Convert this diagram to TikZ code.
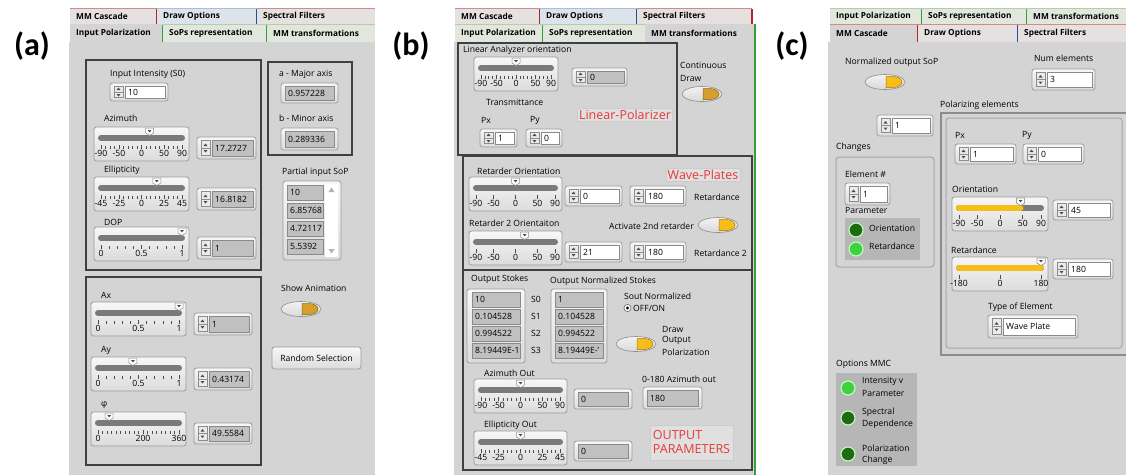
\documentclass[tikz,border=0pt]{standalone}
\usepackage{fontspec}
\setmainfont{Open Sans}
\newfontfamily\labfont{Carlito}
\definecolor{panel}{HTML}{D4D4D4}
\definecolor{frmc}{HTML}{404040}
\definecolor{ctlfill}{HTML}{E4E4E4}
\definecolor{ctldraw}{HTML}{9C9C9C}
\definecolor{fldg}{HTML}{C0C0C0}
\definecolor{flddraw}{HTML}{8A8A8A}
\definecolor{trackc}{HTML}{7A7A7A}
\definecolor{ledbg}{HTML}{B6B6B6}
\definecolor{dkgreen}{HTML}{1F6A12}
\definecolor{ltgreen}{HTML}{3FD23F}
\definecolor{yel}{HTML}{F7BE1A}
\definecolor{org}{HTML}{D49F2C}
\definecolor{redtxt}{HTML}{E53935}
\definecolor{tabr}{HTML}{E6E1E1}
\definecolor{tabb}{HTML}{DDE3EA}
\definecolor{tabg}{HTML}{E1E7DD}
\definecolor{topr}{HTML}{D88888}
\definecolor{topb}{HTML}{A8C0D8}
\definecolor{topg}{HTML}{B0D0A8}
\definecolor{sepr}{HTML}{B02828}
\definecolor{sepb}{HTML}{2850A0}
\definecolor{sepg}{HTML}{38A038}
\newcommand{\guifont}{\fontsize{8.6}{10}\selectfont}
\newcommand{\tabfont}{\fontsize{8.3}{10}\selectfont\bfseries}
\newcommand{\bigfont}{\labfont\bfseries\fontsize{32}{32}\selectfont}
\newcommand{\redfont}{\fontsize{12.5}{14}\selectfont}
\tikzset{
  frm/.style={draw=frmc, line width=2.2},
  ctlframe/.style={top color=white!97!black, bottom color=black!14, draw=ctldraw, line width=0.8, rounded corners=2.5},
  spinbox/.style={fill=white!92!black, draw=black!45, line width=0.5},
  track/.style={draw=trackc, line width=6, line cap=round},
  ytrack/.style={draw=yel, line width=6, line cap=round},
  tick/.style={draw=black!70, line width=0.6},
  lbl/.style={anchor=west, font=\guifont, inner sep=0pt},
  tabtxt/.style={anchor=west, font=\tabfont, inner sep=0pt},
  redlab/.style={fill=white!88!black, draw=black!20, text=redtxt, font=\redfont, inner sep=1.5pt, align=left},
  raised/.style={fill=panel, draw=black!35, line width=1, rounded corners=3},
}
% tab: x0 y0 x1 y1 text fill topcolor sepcolor
\newcommand{\tabx}[8]{%
  \fill[#6] (#1,#2) rectangle (#3,#4);
  \draw[draw=#7, line width=1] (#1,#2+0.5) -- (#3,#2+0.5);
  \draw[draw=#8, line width=1.2] (#3,#2+1) -- (#3,#4);
  \node[tabtxt] at (#1+6,{(#2+#4)/2}) {#5};
}
% numeric control: x0 y0 x1 y1 value fieldcolor
\newcommand{\numc}[6]{%
  \draw[ctlframe] (#1,#2) rectangle (#3,#4);
  \draw[spinbox] (#1+4,#2+3.5) rectangle (#1+13,{(#2+#4)/2});
  \draw[spinbox] (#1+4,{(#2+#4)/2}) rectangle (#1+13,#4-3.5);
  \fill[black!70] (#1+6.5,{(#2+#4)/2-2}) -- (#1+10.5,{(#2+#4)/2-2}) -- (#1+8.5,{(#2+#4)/2-4.5}) -- cycle;
  \fill[black!70] (#1+6.5,{(#2+#4)/2+2}) -- (#1+10.5,{(#2+#4)/2+2}) -- (#1+8.5,{(#2+#4)/2+4.5}) -- cycle;
  \draw[fill=#6, draw=flddraw, line width=0.6] (#1+15,#2+3) rectangle (#3-3,#4-3);
  \node[lbl] at (#1+18,{(#2+#4)/2}) {#5};
}
% indicator without spin: x0 y0 x1 y1 value
\newcommand{\indc}[5]{%
  \draw[ctlframe] (#1,#2) rectangle (#3,#4);
  \draw[fill=fldg, draw=flddraw, line width=0.6] (#1+4,#2+3) rectangle (#3-4,#4-3);
  \node[lbl] at (#1+7,{(#2+#4)/2}) {#5};
}
\newcommand{\ptr}[2]{%
  \draw[fill=white, draw=black!45, line width=0.5] (#1-4,#2+1) -- (#1+4,#2+1) -- (#1+4,#2+6) -- (#1,#2+8.5) -- (#1-4,#2+6) -- cycle;
  \fill[black!70] (#1-1.8,#2+3.2) -- (#1+1.8,#2+3.2) -- (#1,#2+5.4) -- cycle;
}
% slider: x0 y0 x1 min max value labels minorticks
\newcommand{\sld}[8]{%
  \draw[ctlframe] (#1,#2) rectangle (#3,#2+34);
  \pgfmathsetmacro\ta{#1+7}\pgfmathsetmacro\tb{#3-7}
  \draw[track] (\ta,#2+11) -- (\tb,#2+11);
  \foreach \v in {#8}{\pgfmathsetmacro\lx{\ta+(\v-(#4))/((#5)-(#4))*(\tb-\ta)}
    \draw[tick] (\lx,#2+19) -- (\lx,#2+21.5);}
  \foreach \v in {#7}{\pgfmathsetmacro\lx{\ta+(\v-(#4))/((#5)-(#4))*(\tb-\ta)}
    \draw[tick] (\lx,#2+18) -- (\lx,#2+22);
    \node[font=\guifont, inner sep=0pt, anchor=north] at (\lx,#2+22.8) {\v};}
  \pgfmathsetmacro\px{\ta+((#6)-(#4))/((#5)-(#4))*(\tb-\ta)}
  \ptr{\px}{#2}
}
\newcommand{\sldfill}[1]{%
  \draw[ytrack] (\ta,#1+11) -- (\px,#1+11);
  \ptr{\px}{#1}
}
\newcommand{\tog}[3]{%
  \draw[draw=black!45, top color=white!95!black, bottom color=black!15, line width=0.6] (#1,#2) ellipse [x radius=20, y radius=7.5];
  \draw[fill=#3, draw=#3!65!black, line width=0.5] (#1+1,#2-5.5) -- (#1+8,#2-5.5) arc[start angle=-90, end angle=90, x radius=9, y radius=5.5] -- (#1+1,#2+5.5) -- cycle;
}
\newcommand{\led}[3]{\draw[fill=#3, draw=white!75!green, line width=1.1] (#1,#2) circle [radius=7];}

\begin{document}
\begin{tikzpicture}[x=1pt,y=-1pt]
\useasboundingbox (0,0) rectangle (1126,475);
\fill[white] (0,0) rectangle (1126,475);

%%%%%%%%%%%%%%%% PANEL (a)
\fill[panel] (69,42) rectangle (375,475);
\tabx{70}{8}{157}{24}{MM Cascade}{tabr}{topr}{sepr}
\tabx{157}{8}{257}{24}{Draw Options}{tabb}{topb}{sepb}
\tabx{257}{8}{375}{24}{Spectral Filters}{tabr}{topr}{none}
\tabx{70}{24}{163}{42}{Input Polarization}{panel}{panel}{sepg}
\tabx{163}{24}{267}{42}{SoPs representation}{tabg}{topg}{sepg}
\tabx{267}{24}{375}{42}{MM transformations}{tabg}{topg}{none}
\node[font=\bigfont, inner sep=0pt] (la) at (32,46) {(a)};

\draw[frm] (86,60) rectangle (261,270);
\node[lbl] at (110,74) {Input Intensity (S0)};
\numc{110}{83}{168}{101}{10}{white}
\node[lbl] at (104,118) {Azimuth};
\sld{94}{127}{189}{-90}{90}{18}{-90,-50,0,50,90}{-90,-80,...,90}
\numc{197}{137}{256}{159}{17.2727}{fldg}
\node[lbl] at (104,170) {Ellipticity};
\sld{94}{177}{189}{-45}{45}{17}{-45,-25,0,25,45}{-45,-40,...,45}
\numc{197}{188}{256}{210}{16.8182}{fldg}
\node[lbl] at (104,222) {DOP};
\sld{94}{227}{189}{0}{1}{1}{0,0.5,1}{0,0.1,...,1}
\numc{197}{237}{256}{259}{1}{fldg}

\draw[frm] (268,62) rectangle (352,155);
\node[lbl] at (279,74) {a - Major axis};
\indc{281}{83}{338}{103}{0.957228}
\node[lbl] at (279,118) {b - Minor axis};
\indc{281}{128}{338}{150}{0.289336}

\node[lbl] at (282,172) {Partial input SoP};
\draw[ctlframe] (283,181) rectangle (341,260);
\fill[white] (325,184) rectangle (338,257);
\fill[black!30] (328.5,192) -- (334.5,192) -- (331.5,187.5) -- cycle;
\fill[black!30] (328.5,249) -- (334.5,249) -- (331.5,253.5) -- cycle;
\draw[fill=fldg, draw=flddraw, line width=0.6] (287,185) rectangle (323,200);
\node[lbl] at (290,192.5) {10};
\draw[fill=fldg, draw=flddraw, line width=0.6] (287,203) rectangle (323,218);
\node[lbl] at (290,210.5) {6.85768};
\draw[fill=fldg, draw=flddraw, line width=0.6] (287,221) rectangle (323,236);
\node[lbl] at (290,228.5) {4.72117};
\draw[fill=fldg, draw=flddraw, line width=0.6] (287,239) rectangle (323,254);
\node[lbl] at (290,246.5) {5.5392};

\node[lbl] at (281,288) {Show Animation};
\tog{301}{309}{org}
\draw[ctlframe] (272,347) rectangle (361,369);
\node[font=\guifont, inner sep=0pt] (rs) at (316.5,358) {Random Selection};

\draw[frm] (86,277) rectangle (261,465);
\node[lbl] at (101,295) {Ax};
\sld{91}{302}{186}{0}{1}{1}{0,0.5,1}{0,0.1,...,1}
\numc{194}{313}{252}{335}{1}{fldg}
\node[lbl] at (101,350) {Ay};
\sld{91}{357}{186}{0}{1}{0.43174}{0,0.5,1}{0,0.1,...,1}
\numc{194}{368}{252}{390}{0.43174}{fldg}
\node[lbl] at (101,405) {φ};
\sld{91}{412}{186}{0}{360}{49.5584}{0,200,360}{0,20,...,360}
\numc{194}{423}{252}{444}{49.5584}{fldg}

%%%%%%%%%%%%%%%% PANEL (b)
\fill[panel] (454,42) rectangle (755,475);
\tabx{455}{8}{540}{24}{MM Cascade}{tabr}{topr}{sepr}
\tabx{540}{8}{637}{24}{Draw Options}{tabb}{topb}{sepb}
\tabx{637}{8}{752}{24}{Spectral Filters}{tabr}{topr}{sepr}
\tabx{455}{24}{543}{42}{Input Polarization}{tabg}{topg}{sepg}
\tabx{543}{24}{645}{42}{SoPs representation}{tabg}{topg}{none}
\tabx{645}{24}{755}{42}{MM transformations}{panel}{panel}{none}
\draw[draw=sepg, line width=1.2] (755,24) -- (755,475);
\node[font=\bigfont, inner sep=0pt] (lb) at (411,46) {(b)};

\draw[frm] (458,43) rectangle (677,155);
\node[lbl] at (463,50) {Linear Analyzer orientation};
\sld{474}{57}{558}{-90}{90}{0}{-90,-50,0,50,90}{-90,-80,...,90}
\numc{572}{68}{627}{86}{0}{fldg}
\node[lbl] at (486,102) {Transmittance};
\node[lbl] at (481,120) {Px};
\node[lbl] at (530,120) {Py};
\numc{480}{129}{517}{147}{1}{white}
\numc{526}{129}{562}{147}{0}{white}
\node[redlab] (lp) at (625,115) {Linear-Polarizer};
\node[lbl] at (680,65) {Continuous};
\node[lbl] at (680,78) {Draw};
\tog{702}{94}{org}

\draw[frm] (463,156) rectangle (752,270);
\node[lbl] at (477,171) {Retarder Orientation};
\sld{469}{177}{562}{-90}{90}{0}{-90,-50,0,50,90}{-90,-50,0,50,90}
\numc{565}{186}{622}{206}{0}{white}
\numc{630}{186}{686}{206}{180}{white}
\node[lbl] at (694,197) {Retardance};
\node[redlab] (wp) at (703,175) {Wave-Plates};
\node[lbl] at (469,223) {Retarder 2 Orientaiton};
\node[lbl] at (609,226) {Activate 2nd retarder};
\tog{718}{225}{yel}
\sld{469}{231}{562}{-90}{90}{21}{-90,-50,0,50,90}{-90,-50,0,50,90}
\numc{565}{242}{622}{262}{21}{white}
\numc{630}{242}{686}{262}{180}{white}
\node[lbl] at (694,253) {Retardance 2};

\draw[frm] (463,270) rectangle (752,470);
\node[lbl] at (471,279) {Output Stokes};
\node[lbl] at (550,281) {Output Normalized Stokes};
\draw[ctlframe] (467,289) rectangle (525,363);
\draw[ctlframe] (551,289) rectangle (607,363);
\foreach \yy/\a/\b [count=\i from 0] in {292/10/1, 309/0.104528/0.104528, 326/0.994522/0.994522, 343/8.19449E-1/8.19449E-'}{
  \draw[fill=fldg, draw=flddraw, line width=0.6] (472,\yy) rectangle (520,\yy+15);
  \node[lbl] at (475,\yy+7.5) {\a};
  \draw[fill=fldg, draw=flddraw, line width=0.6] (555,\yy) rectangle (603,\yy+15);
  \node[lbl] at (558,\yy+7.5) {\b};
  \node[lbl] at (531,\yy+7.5) {S\i};
}
\node[lbl] at (624,296) {Sout Normalized};
\draw[fill=white, draw=black!60, line width=0.6] (627.5,308) circle [radius=3.6];
\fill[black] (627.5,308) circle [radius=1.7];
\node[lbl] at (633,308) {OFF/ON};
\tog{636}{344}{yel}
\node[lbl] at (662,329) {Draw};
\node[lbl] at (662,340.5) {Output};
\node[lbl] at (662,352) {Polarization};
\node[lbl] at (484,373) {Azimuth Out};
\sld{474}{379}{567}{-90}{90}{0}{-90,-50,0,50,90}{-90,-80,...,90}
\indc{574}{389}{632}{409}{0}
\node[lbl] at (642,379) {0-180 Azimuth out};
\indc{643}{387}{702}{409}{180}
\node[lbl] at (484,425) {Ellipticity Out};
\sld{474}{431}{567}{-45}{45}{0}{-45,-25,0,25,45}{-45,-40,...,45}
\indc{574}{441}{632}{461}{0}
\node[redlab, minimum width=83, minimum height=35] (op) at (691.5,442.5) {OUTPUT\\PARAMETERS};

%%%%%%%%%%%%%%%% PANEL (c)
\fill[panel] (828,42) rectangle (1126,475);
\tabx{830}{8}{922}{24}{Input Polarization}{tabg}{topg}{sepg}
\tabx{922}{8}{1027}{24}{SoPs representation}{tabg}{topg}{sepg}
\tabx{1027}{8}{1130}{24}{MM transformations}{tabg}{topg}{none}
\tabx{830}{24}{918}{42}{MM Cascade}{panel}{topr}{sepr}
\tabx{918}{24}{1018}{42}{Draw Options}{tabr}{topr}{sepb}
\tabx{1018}{24}{1130}{42}{Spectral Filters}{tabr}{topr}{none}
\node[font=\bigfont, inner sep=0pt] (lc) at (792,46) {(c)};

\node[lbl] at (845,62) {Normalized output SoP};
\tog{885}{82}{yel}
\node[lbl] at (1034,58) {Num elements};
\numc{1032}{69}{1095}{90}{3}{white}
\node[lbl] at (940,105) {Polarizing elements};
\numc{877}{115}{933}{136}{1}{white}
\node[lbl] at (836,147) {Changes};

\draw[raised] (836,157) rectangle (934,267);
\node[lbl] at (845,174) {Element \#};
\numc{845}{183}{890}{205}{1}{white}
\node[lbl] at (845,210) {Parameter};
\fill[ledbg] (845,218) rectangle (920,260);
\led{856}{230}{dkgreen}
\node[lbl] at (869,228) {Orientation};
\led{856}{249}{ltgreen}
\node[lbl] at (869,246) {Retardance};

\draw[fill=panel, draw=black!45, line width=1.2] (941,113) rectangle (1140,355);
\draw[raised] (946,118) rectangle (1122,348);
\node[lbl] at (955,135) {Px};
\node[lbl] at (1022,135) {Py};
\numc{955}{144}{1016}{164}{1}{white}
\numc{1023}{144}{1084}{164}{0}{white}
\node[lbl] at (952,189) {Orientation};
\sld{952}{197}{1048}{-90}{90}{45}{-90,-50,0,50,90}{-90,-50,0,50,90}
\sldfill{197}
\numc{1053}{200}{1113}{220}{45}{white}
\node[lbl] at (951,250) {Retardance};
\sld{952}{257}{1048}{-180}{180}{180}{-180,0,180}{-180,0,180}
\sldfill{257}
\numc{1053}{259}{1113}{279}{180}{white}
\node[lbl] at (988,307) {Type of Element};
\numc{988}{315}{1078}{338}{Wave Plate}{white}

\node[lbl] at (836,364) {Options MMC};
\fill[ledbg] (836,373) rectangle (917,466);
\led{848}{388}{ltgreen}
\node[lbl] at (862,381) {Intensity v};
\node[lbl] at (862,393) {Parameter};
\led{848}{418}{dkgreen}
\node[lbl] at (862,412) {Spectral};
\node[lbl] at (862,424) {Dependence};
\led{848}{454}{dkgreen}
\node[lbl] at (862,448) {Polarization};
\node[lbl] at (862,460) {Change};
\end{tikzpicture}
\end{document}
